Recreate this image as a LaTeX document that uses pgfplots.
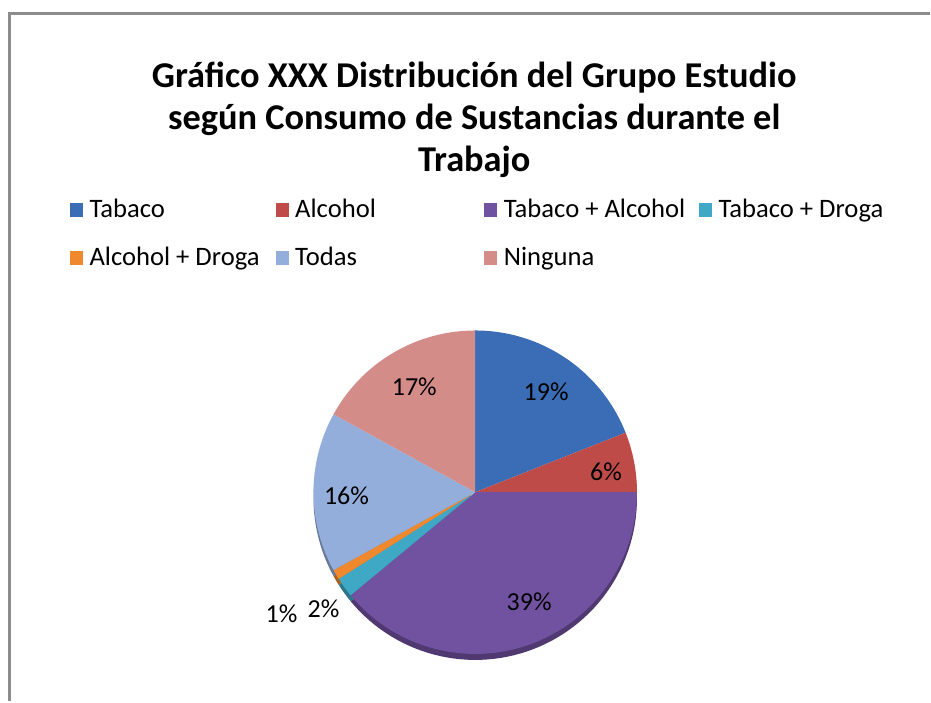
\documentclass[border=0pt]{standalone}
\usepackage{fontspec}
\setmainfont{Carlito}
\usepackage{pgfplots}
\pgfplotsset{compat=1.18}
\definecolor{cTab}{HTML}{3A6DB5}
\definecolor{cAlc}{HTML}{BE4B48}
\definecolor{cTA}{HTML}{7152A0}
\definecolor{cTD}{HTML}{3FA8C5}
\definecolor{cAD}{HTML}{F0882E}
\definecolor{cTod}{HTML}{93AEDB}
\definecolor{cNin}{HTML}{D48C89}
\definecolor{frame}{HTML}{8C8C8C}
\newcommand{\lent}[2]{\hspace{5pt}\makebox[#1][l]{\rule[-5pt]{0pt}{20pt}#2}}
\begin{document}
\begin{tikzpicture}
\begin{axis}[
  scale only axis, width=698.25pt, height=526.5pt,
  xmin=0, xmax=931, ymin=0, ymax=702,
  hide axis, clip=false,
  legend columns=4,
  legend image code/.code={\fill[#1] (0pt,0.75pt) rectangle (9.75pt,11.25pt);},
  legend style={at={(axis cs:70,504)}, anchor=north west, draw=none, fill=none,
    inner sep=0pt, outer sep=0pt, column sep=0pt, row sep=19.75pt,
    font=\fontsize{20}{24}\selectfont,
    nodes={inner sep=0pt, anchor=base west}},
]
\path (axis cs:0,0) rectangle (axis cs:931,702);
\draw[frame, line width=2.25pt] (axis cs:10,0) -- (axis cs:10,688) -- (axis cs:931,688);
\node[align=center, font=\fontsize{27.3}{31.9}\selectfont\bfseries] at (axis cs:475,582)
  {Gráfico XXX Distribución del Grupo Estudio\\según Consumo de Sustancias durante el\\Trabajo};
% side (depth) of the pie
\addplot[forget plot, fill=cAlc!70!black, draw=none, domain=19:25, samples=10, variable=\t] ({476+162*sin(3.6*t)},{203+162*cos(3.6*t)}) -- (476,203) -- cycle;
\addplot[forget plot, fill=cTA!70!black, draw=none, domain=25:64, samples=60, variable=\t] ({476+162*sin(3.6*t)},{203+162*cos(3.6*t)}) -- (476,203) -- cycle;
\addplot[forget plot, fill=cTD!70!black, draw=none, domain=64:66, samples=5, variable=\t] ({476+162*sin(3.6*t)},{203+162*cos(3.6*t)}) -- (476,203) -- cycle;
\addplot[forget plot, fill=cAD!70!black, draw=none, domain=66:67, samples=5, variable=\t] ({476+162*sin(3.6*t)},{203+162*cos(3.6*t)}) -- (476,203) -- cycle;
\addplot[forget plot, fill=cTod!70!black, draw=none, domain=67:83, samples=30, variable=\t] ({476+162*sin(3.6*t)},{203+162*cos(3.6*t)}) -- (476,203) -- cycle;
% top faces
\addplot[fill=cTab, draw=none, domain=0:19, samples=40, variable=\t] ({476+162*sin(3.6*t)},{209+162*cos(3.6*t)}) -- (476,209) -- cycle;
\addlegendentry{\lent{139.75pt}{Tabaco}}
\addplot[fill=cAlc, draw=none, domain=19:25, samples=12, variable=\t] ({476+162*sin(3.6*t)},{209+162*cos(3.6*t)}) -- (476,209) -- cycle;
\addlegendentry{\lent{142pt}{Alcohol}}
\addplot[fill=cTA, draw=none, domain=25:64, samples=70, variable=\t] ({476+162*sin(3.6*t)},{209+162*cos(3.6*t)}) -- (476,209) -- cycle;
\addlegendentry{\lent{146.5pt}{Tabaco + Alcohol}}
\addplot[fill=cTD, draw=none, domain=64:66, samples=6, variable=\t] ({476+162*sin(3.6*t)},{209+162*cos(3.6*t)}) -- (476,209) -- cycle;
\addlegendentry{\lent{120pt}{Tabaco + Droga}}
\addplot[fill=cAD, draw=none, domain=66:67, samples=5, variable=\t] ({476+162*sin(3.6*t)},{209+162*cos(3.6*t)}) -- (476,209) -- cycle;
\addlegendentry{\lent{139.75pt}{Alcohol + Droga}}
\addplot[fill=cTod, draw=none, domain=67:83, samples=30, variable=\t] ({476+162*sin(3.6*t)},{209+162*cos(3.6*t)}) -- (476,209) -- cycle;
\addlegendentry{\lent{142pt}{Todas}}
\addplot[fill=cNin, draw=none, domain=83:100, samples=30, variable=\t] ({476+162*sin(3.6*t)},{209+162*cos(3.6*t)}) -- (476,209) -- cycle;
\addlegendentry{\lent{146.5pt}{Ninguna}}
% percentage labels
\addplot[forget plot, only marks, mark=o, mark size=0pt, mark options={draw=none},
  nodes near coords, point meta=explicit symbolic,
  nodes near coords style={anchor=center, inner sep=0pt, font=\fontsize{19.5}{22}\selectfont}]
  coordinates {(547,310) [19\%] (607,229) [6\%] (530,99) [39\%] (324,92) [2\%]
               (282,87) [1\%] (347,205) [16\%] (415,315) [17\%]};
\end{axis}
\end{tikzpicture}
\end{document}
